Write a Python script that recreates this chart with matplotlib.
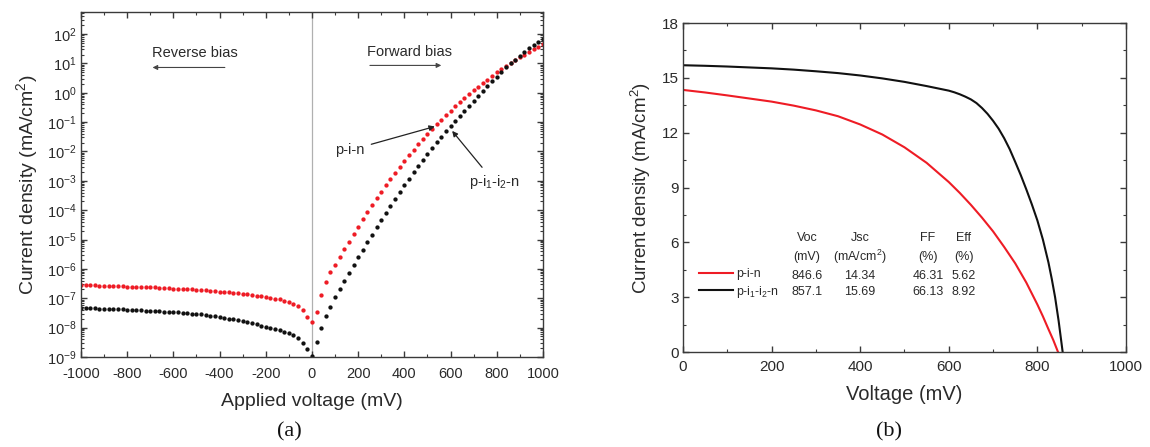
import numpy as np
import matplotlib
matplotlib.use('Agg')
import matplotlib.pyplot as plt
from matplotlib.ticker import MultipleLocator, LogLocator, NullFormatter

plt.rcParams['font.family'] = 'Liberation Sans'
plt.rcParams['mathtext.fontset'] = 'custom'
plt.rcParams['mathtext.rm'] = 'Liberation Sans'
plt.rcParams['mathtext.it'] = 'Liberation Sans:italic'
plt.rcParams['axes.unicode_minus'] = False

RED = '#ee1c25'
BLACK = '#111111'
TXT = '#2a2a2a'

# (a) dark J-V, sweep -1000..1000 mV in 20 mV steps, values are log10(J / mA cm-2)
v_dark = np.arange(-1000, 1001, 20)
logj_pin = [
    -6.55, -6.55, -6.56, -6.56, -6.57, -6.57, -6.58, -6.58, -6.59, -6.59,
    -6.60, -6.60, -6.61, -6.61, -6.62, -6.63, -6.63, -6.64, -6.65, -6.66,
    -6.67, -6.67, -6.68, -6.69, -6.70, -6.71, -6.72, -6.73, -6.74, -6.76,
    -6.77, -6.78, -6.80, -6.82, -6.83, -6.85, -6.87, -6.89, -6.91, -6.93,
    -6.95, -6.98, -7.01, -7.04, -7.08, -7.12, -7.18, -7.26, -7.40, -7.65,
    -7.82,
    -7.45, -6.88, -6.45, -6.12, -5.85, -5.58, -5.33, -5.07, -4.81, -4.56,
    -4.31, -4.07, -3.83, -3.60, -3.37, -3.15, -2.93, -2.72, -2.52, -2.32,
    -2.13, -1.94, -1.76, -1.58, -1.41, -1.24, -1.08, -0.92, -0.76, -0.61,
    -0.46, -0.32, -0.18, -0.05, 0.08, 0.21, 0.33, 0.45, 0.57, 0.69,
    0.80, 0.90, 1.00, 1.10, 1.20, 1.30, 1.40, 1.49, 1.57, 1.65]
logj_pi1i2n = [
    -7.33, -7.33, -7.34, -7.34, -7.35, -7.35, -7.36, -7.37, -7.37, -7.38,
    -7.39, -7.39, -7.40, -7.41, -7.42, -7.42, -7.43, -7.44, -7.45, -7.46,
    -7.47, -7.48, -7.49, -7.50, -7.52, -7.53, -7.55, -7.57, -7.59, -7.61,
    -7.64, -7.67, -7.70, -7.72, -7.75, -7.78, -7.82, -7.85, -7.89, -7.93,
    -7.97, -8.01, -8.05, -8.09, -8.14, -8.19, -8.26, -8.36, -8.51, -8.74,
    -8.95,
    -8.50, -8.02, -7.62, -7.28, -6.97, -6.68, -6.40, -6.13, -5.86, -5.60,
    -5.34, -5.08, -4.83, -4.58, -4.33, -4.09, -3.85, -3.61, -3.38, -3.15,
    -2.93, -2.71, -2.50, -2.29, -2.08, -1.88, -1.69, -1.50, -1.31, -1.13,
    -0.95, -0.78, -0.61, -0.44, -0.28, -0.12, 0.07, 0.23, 0.39, 0.55,
    0.71, 0.86, 1.00, 1.13, 1.26, 1.39, 1.51, 1.62, 1.73, 1.84]

# (b) illuminated J-V
v_pin = [0, 50, 100, 150, 200, 250, 300, 350, 400, 450, 500, 550, 600, 625, 650,
         675, 700, 725, 750, 775, 800, 812.5, 825, 836, 846.6]
j_pin = [14.34, 14.20, 14.04, 13.87, 13.70, 13.48, 13.22, 12.90, 12.45, 11.90,
         11.20, 10.35, 9.30, 8.70, 8.05, 7.35, 6.60, 5.75, 4.85, 3.80, 2.60,
         1.95, 1.25, 0.65, 0.0]
v_pi1i2n = [0, 50, 100, 150, 200, 250, 300, 350, 400, 450, 500, 550, 600, 612.5,
            625, 637.5, 650, 662.5, 675, 687.5, 700, 712.5, 725, 737.5, 750, 762.5,
            775, 787.5, 800, 812.5, 825, 832.5, 840, 848, 857.1]
j_pi1i2n = [15.69, 15.66, 15.62, 15.57, 15.52, 15.45, 15.36, 15.26, 15.13, 14.97,
            14.78, 14.55, 14.30, 14.21, 14.10, 13.97, 13.82, 13.62, 13.35, 13.03,
            12.65, 12.22, 11.70, 11.10, 10.40, 9.68, 8.90, 8.08, 7.20, 6.15,
            4.90, 4.00, 3.00, 1.70, 0.0]

devices = ['p-i-n', 'p-i$_1$-i$_2$-n']
col_head = ['Voc', 'Jsc', 'FF', 'Eff']
col_unit = ['(mV)', '(mA/cm$^2$)', '(%)', '(%)']
voc = ['846.6', '857.1']
jsc = ['14.34', '15.69']
ff = ['46.31', '66.13']
eff = ['5.62', '8.92']

fig = plt.figure(figsize=(11.5, 4.47), dpi=100)
ax1 = fig.add_axes([0.0704, 0.2013, 0.4017, 0.7718])
ax2 = fig.add_axes([0.5939, 0.2125, 0.3852, 0.736])

# ---- panel (a)
ax1.axvline(0, color='#b0b0b0', lw=0.9, zorder=0)
ax1.semilogy(v_dark, 10 ** np.array(logj_pin), 'o', ms=3.1, mec='none', color=RED)
ax1.semilogy(v_dark, 10 ** np.array(logj_pi1i2n), 'o', ms=3.1, mec='none', color=BLACK)
ax1.set_xlim(-1000, 1000)
ax1.set_ylim(1e-9, 5.6e2)
ax1.xaxis.set_major_locator(MultipleLocator(200))
ax1.xaxis.set_minor_locator(MultipleLocator(100))
ax1.set_yticks([10.0 ** k for k in range(-9, 3)])
ax1.yaxis.set_minor_locator(LogLocator(base=10, subs=np.arange(2, 10), numticks=100))
ax1.yaxis.set_minor_formatter(NullFormatter())
ax1.set_xlabel('Applied voltage (mV)', fontsize=14, color=TXT, labelpad=9)
ax1.set_ylabel('Current density (mA/cm$^2$)', fontsize=14, color=TXT, labelpad=5)

ax1.text(-506, 10 ** 1.34, 'Reverse bias', ha='center', va='center', fontsize=10.5, color=TXT)
ax1.annotate('', xy=(-690, 10 ** 0.86), xytext=(-377, 10 ** 0.86),
             arrowprops=dict(arrowstyle='-|>', color='#444', lw=0.8, mutation_scale=7,
                             shrinkA=0, shrinkB=0))
ax1.text(424, 10 ** 1.37, 'Forward bias', ha='center', va='center', fontsize=10.5, color=TXT)
ax1.annotate('', xy=(560, 10 ** 0.93), xytext=(251, 10 ** 0.93),
             arrowprops=dict(arrowstyle='-|>', color='#444', lw=0.8, mutation_scale=7,
                             shrinkA=0, shrinkB=0))
ax1.annotate('p-i-n', xy=(532, 10 ** -1.15), xytext=(164, 10 ** -1.96), ha='center',
             va='center', fontsize=10.5, color=TXT,
             arrowprops=dict(arrowstyle='-|>', color='#222', lw=0.9, mutation_scale=8,
                             shrinkA=3, shrinkB=0))
ax1.annotate('p-i$_1$-i$_2$-n', xy=(607, 10 ** -1.3), xytext=(790, 10 ** -3.05),
             ha='center', va='center', fontsize=10.5, color=TXT,
             arrowprops=dict(arrowstyle='-|>', color='#222', lw=0.9, mutation_scale=8,
                             shrinkA=3, shrinkB=0))

# ---- panel (b)
ax2.plot(v_pin, j_pin, color=RED, lw=1.5, label=devices[0])
ax2.plot(v_pi1i2n, j_pi1i2n, color=BLACK, lw=1.5, label=devices[1])
ax2.set_xlim(0, 1000)
ax2.set_ylim(0, 18)
ax2.xaxis.set_major_locator(MultipleLocator(200))
ax2.xaxis.set_minor_locator(MultipleLocator(100))
ax2.yaxis.set_major_locator(MultipleLocator(3))
ax2.yaxis.set_minor_locator(MultipleLocator(1.5))
ax2.set_xlabel('Voltage (mV)', fontsize=14.5, color=TXT, labelpad=8)
ax2.set_ylabel('Current density (mA/cm$^2$)', fontsize=13.5, color=TXT, labelpad=6)

ax2.legend(loc='upper left', bbox_to_anchor=(699 / 1150, 1 - 268 / 447),
           bbox_transform=fig.transFigure, frameon=False, fontsize=8.8,
           handlelength=2.8, handletextpad=0.2, labelspacing=0.3, borderpad=0,
           borderaxespad=0, labelcolor=TXT)
col_x = [0.28, 0.40, 0.553, 0.634]
row_y = [0.231, 0.182]
for cx, head, unit, vals in zip(col_x, col_head, col_unit, [voc, jsc, ff, eff]):
    ax2.text(cx, 0.3465, head, transform=ax2.transAxes, ha='center', va='center',
             fontsize=9, color=TXT)
    ax2.text(cx, 0.289, unit, transform=ax2.transAxes, ha='center', va='center',
             fontsize=9, color=TXT)
    for ry, val in zip(row_y, vals):
        ax2.text(cx, ry, val, transform=ax2.transAxes, ha='center', va='center',
                 fontsize=9, color=TXT)

for ax in (ax1, ax2):
    for sp in ax.spines.values():
        sp.set_color('#3a3a3a')
        sp.set_linewidth(1.0)
    ax.tick_params(which='both', direction='in', top=True, right=True,
                   color='#3a3a3a', labelcolor=TXT)
    ax.tick_params(which='major', length=4.5, width=1.0, labelsize=11, pad=3)
    ax.tick_params(which='minor', length=2.5, width=0.8)
ax1.tick_params(which='major', labelsize=10.5)
ax1.tick_params(axis='x', which='major', pad=7)
ax2.tick_params(axis='x', which='major', pad=6)

fig.text(289 / 1150, 1 - 432 / 447, '(a)', family='Liberation Serif', fontsize=16,
         ha='center', va='center', color='#111')
fig.text(889 / 1150, 1 - 432 / 447, '(b)', family='Liberation Serif', fontsize=16,
         ha='center', va='center', color='#111')

fig.savefig('out.png', dpi=100)
